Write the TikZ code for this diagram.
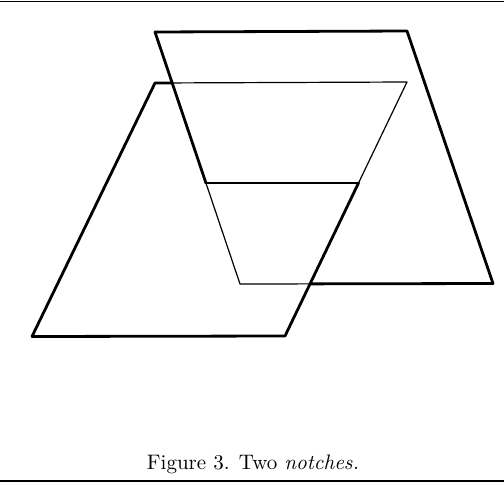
\documentclass[tikz,border=0pt]{standalone}
\usetikzlibrary{calc}
\begin{document}
\begin{tikzpicture}[x=1pt,y=-1pt,
    edge/.style={line width=2.8pt,line join=round,line cap=round},
    cut/.style={line width=1.2pt,line join=round},
    rule/.style={line width=1.6pt}]
        \useasboundingbox (0,0) rectangle (504,485);

        % Rules above and below the figure
        \draw[line width=1.2pt] (0,1.5) -- (504,1.5);
        \draw[rule] (0,481) -- (504,481);

        % Corners of the back parallelogram
        \coordinate (b1) at (155,32);
        \coordinate (b2) at (407,31);
        \coordinate (b3) at (493,283.5);
        \coordinate (b4) at (240,284);

        % Corners of the front parallelogram
        \coordinate (f1) at (155,83);
        \coordinate (f2) at (407,82);
        \coordinate (f3) at (285,336);
        \coordinate (f4) at (32,336.5);

        % Level of the notch floor
        \coordinate (m1) at (100,183);
        \coordinate (m2) at (450,183);

        % Crossing points of the outlines
        \coordinate (xt) at (intersection of f1--f2 and b1--b4);
        \coordinate (xb) at (intersection of b3--b4 and f2--f3);
        \coordinate (nl) at (intersection of m1--m2 and b1--b4);
        \coordinate (nr) at (intersection of m1--m2 and f2--f3);

        % Back parallelogram with its notch
        \draw[edge] (nl) -- (b1) -- (b2) -- (b3) -- (xb);
        % Front parallelogram with its notch
        \draw[edge] (xt) -- (f1) -- (f4) -- (f3) -- (nr);
        % Floor of the notches
        \draw[edge] (nl) -- (nr);

        % Thin lines of the removed parts
        \draw[cut] (xt) -- (f2) -- (nr);
        \draw[cut] (nl) -- (b4) -- (xb);

        % Caption
        \node[anchor=base,inner sep=0pt,scale=2.1,transform shape] (caption)
            at (253,469) {Figure 3. Two \textit{notches.}};
\end{tikzpicture}
\end{document}
